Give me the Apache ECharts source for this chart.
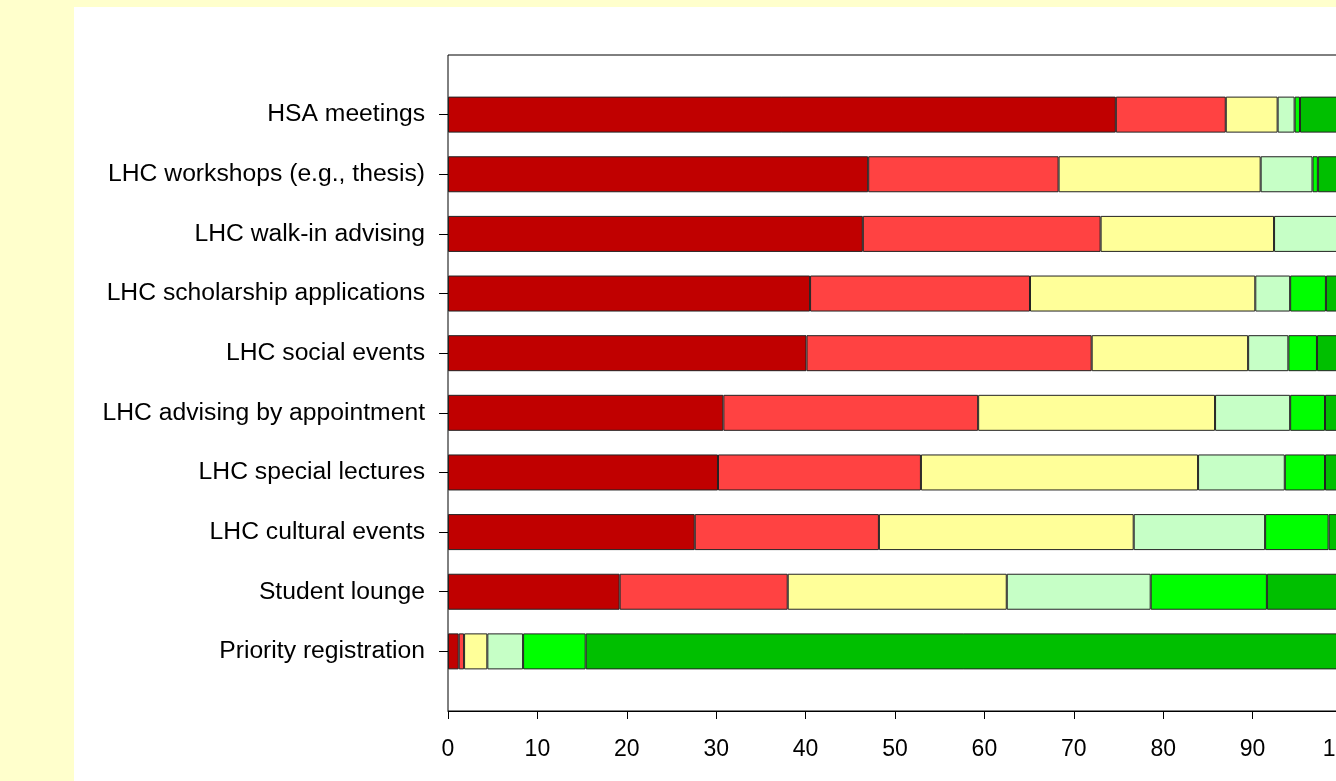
<!DOCTYPE html>
<html>
<head>
<meta charset="utf-8">
<title>LHC services</title>
<script src="https://cdn.jsdelivr.net/npm/echarts/dist/echarts.min.js"></script>
<style>
  html, body { margin: 0; padding: 0; background: #FFFFCC; overflow: hidden; }
  /* chart runs a few px past the window on the right, like the cropped original */
  #charts { position: absolute; left: 74px; top: 7px; width: 1268px; height: 774px; background: #fff; }
</style>
</head>
<body>
<div id="charts"></div>
<script>
var categories = ['HSA meetings', 'LHC workshops (e.g., thesis)', 'LHC walk-in advising',
  'LHC scholarship applications', 'LHC social events', 'LHC advising by appointment',
  'LHC special lectures', 'LHC cultural events', 'Student lounge', 'Priority registration'];

// percent of respondents per answer, left to right
var level1 = [74.7, 47.0, 46.4, 40.5, 40.1, 30.8, 30.2, 27.6, 19.2, 1.2];
var level2 = [12.3, 21.3, 26.6, 24.6, 31.9, 28.5, 22.7, 20.6, 18.8, 0.6];
var level3 = [5.8, 22.6, 19.4, 25.2, 17.5, 26.5, 31.0, 28.5, 24.5, 2.6];
var level4 = [1.9, 5.8, 7.6, 3.9, 4.5, 8.4, 9.7, 14.7, 16.1, 4.0];
var level5 = [0.6, 0.6, 0, 4.0, 3.2, 3.9, 4.5, 7.1, 13.0, 7.0];
var level6 = [4.7, 2.7, 0, 1.8, 2.8, 1.9, 1.9, 1.5, 8.4, 84.6];

var xTicks = [0, 10, 20, 30, 40, 50, 60, 70, 80, 90, 100];

var font = "'Liberation Sans', Arial, sans-serif";

function bar(name, data, color) {
  return {
    name: name,
    type: 'bar',
    stack: 'total',
    xAxisIndex: 1,
    yAxisIndex: 1,
    barWidth: 36,
    data: data,
    itemStyle: { color: color, borderColor: '#222', borderWidth: 1 }
  };
}

var myChart = echarts.init(document.getElementById('charts'));
var option = {
  animation: false,
  grid: [
    { left: 374, right: 0, top: 48, bottom: 70, show: true, borderColor: '#000', borderWidth: 1,
      outerBoundsMode: 'none', containLabel: false },
    { left: 374, right: 0, top: 77.8, bottom: 99.8, outerBoundsMode: 'none', containLabel: false }
  ],
  xAxis: [
    {
      gridIndex: 0, type: 'value', min: xTicks[0], max: xTicks[xTicks.length - 1], interval: 10,
      axisLine: { show: true, lineStyle: { color: '#000', width: 1 } },
      axisTick: { show: true, length: 8, lineStyle: { color: '#000' } },
      axisLabel: { color: '#000', fontSize: 23, fontFamily: font, margin: 27 },
      splitLine: { show: false }
    },
    { gridIndex: 1, type: 'value', min: 0, max: 100, show: false }
  ],
  yAxis: [
    { gridIndex: 0, type: 'value', show: false },
    {
      gridIndex: 1, type: 'category', inverse: true, data: categories,
      axisLine: { show: false },
      axisTick: { show: true, alignWithLabel: true, length: 9, lineStyle: { color: '#000' } },
      axisLabel: { color: '#000', fontSize: 24.7, fontFamily: font, margin: 23 }
    }
  ],
  series: [
    bar('1', level1, '#C00000'),
    bar('2', level2, '#FF4242'),
    bar('3', level3, '#FFFF99'),
    bar('4', level4, '#C6FFC6'),
    bar('5', level5, '#00FF00'),
    bar('6', level6, '#00BF00')
  ]
};
myChart.setOption(option);
</script>
</body>
</html>
